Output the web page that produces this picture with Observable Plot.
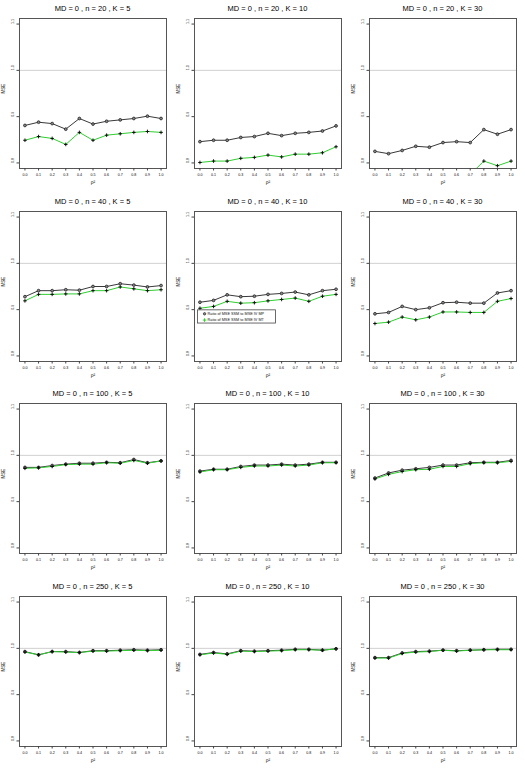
<!DOCTYPE html>
<html><head><meta charset="utf-8">
<script src="https://cdn.jsdelivr.net/npm/d3@7"></script>
<script src="https://cdn.jsdelivr.net/npm/@observablehq/plot@0.6"></script>
<style>
body{margin:0;background:#fff;}
#wrap{position:relative;width:525px;height:770px;overflow:hidden;font-family:"Liberation Sans",Arial,sans-serif;background:#fff;}
.cell{position:absolute;width:175px;height:192px;}
.title{position:absolute;left:19px;width:147px;top:4px;text-align:center;font-size:7.5px;line-height:10px;color:#000;white-space:nowrap;}
.cell svg{position:absolute;left:0;top:14px;}
</style></head><body><div id="wrap"></div>
<script>
const rho2 = [0.0,0.1,0.2,0.3,0.4,0.5,0.6,0.7,0.8,0.9,1.0];
const sampleSizes = [20,40,100,250];
const instruments = [5,10,30];
const yTicks = [0.8,0.9,1.0,1.1];
const xTicks = [0.0,0.1,0.2,0.3,0.4,0.5,0.6,0.7,0.8,0.9,1.0];
const legendLabels = ["Ratio of MSE SSM to MSE IV MP","Ratio of MSE SSM to MSE IV MT"];

// MP series (black, circles) and MT series (green, plus)
const mp_20_5  = [0.881,0.888,0.885,0.873,0.896,0.884,0.890,0.893,0.896,0.901,0.896];
const mt_20_5  = [0.849,0.857,0.853,0.840,0.866,0.849,0.860,0.863,0.866,0.868,0.866];
const mp_20_10 = [0.846,0.849,0.849,0.855,0.857,0.864,0.859,0.864,0.866,0.869,0.880];
const mt_20_10 = [0.801,0.804,0.804,0.810,0.812,0.817,0.813,0.819,0.819,0.822,0.835];
const mp_20_30 = [0.825,0.820,0.827,0.836,0.834,0.844,0.846,0.844,0.872,0.862,0.872];
const mt_20_30 = [0.755,0.750,0.757,0.766,0.764,0.774,0.776,0.775,0.804,0.794,0.804];
const mp_40_5  = [0.928,0.941,0.941,0.943,0.942,0.950,0.950,0.956,0.953,0.949,0.952];
const mt_40_5  = [0.919,0.933,0.933,0.934,0.934,0.941,0.941,0.949,0.945,0.941,0.943];
const mp_40_10 = [0.916,0.920,0.932,0.928,0.929,0.933,0.935,0.938,0.932,0.941,0.944];
const mt_40_10 = [0.903,0.907,0.918,0.914,0.915,0.919,0.922,0.925,0.918,0.929,0.933];
const mp_40_30 = [0.891,0.894,0.907,0.900,0.904,0.915,0.916,0.914,0.914,0.936,0.941];
const mt_40_30 = [0.870,0.873,0.884,0.878,0.884,0.895,0.895,0.894,0.894,0.918,0.924];
const mp_100_5  = [0.974,0.974,0.978,0.981,0.983,0.983,0.985,0.984,0.991,0.984,0.988];
const mt_100_5  = [0.972,0.973,0.976,0.980,0.981,0.981,0.984,0.983,0.989,0.983,0.988];
const mp_100_10 = [0.966,0.970,0.970,0.976,0.979,0.979,0.981,0.979,0.981,0.985,0.985];
const mt_100_10 = [0.964,0.969,0.969,0.974,0.977,0.977,0.979,0.977,0.979,0.984,0.984];
const mp_100_30 = [0.951,0.962,0.968,0.971,0.974,0.979,0.979,0.984,0.985,0.985,0.989];
const mt_100_30 = [0.949,0.959,0.965,0.969,0.970,0.976,0.976,0.982,0.984,0.984,0.987];
const mp_250_5  = [0.993,0.986,0.993,0.993,0.991,0.995,0.995,0.996,0.997,0.996,0.997];
const mt_250_5  = [0.992,0.986,0.993,0.992,0.991,0.994,0.994,0.995,0.996,0.995,0.996];
const mp_250_10 = [0.987,0.991,0.988,0.995,0.994,0.995,0.996,0.998,0.998,0.996,0.999];
const mt_250_10 = [0.986,0.990,0.987,0.994,0.993,0.994,0.995,0.997,0.997,0.996,0.999];
const mp_250_30 = [0.980,0.980,0.990,0.993,0.994,0.996,0.995,0.996,0.997,0.998,0.998];
const mt_250_30 = [0.979,0.979,0.989,0.992,0.993,0.996,0.994,0.996,0.997,0.997,0.997];

const seriesMP = [[mp_20_5,mp_20_10,mp_20_30],[mp_40_5,mp_40_10,mp_40_30],[mp_100_5,mp_100_10,mp_100_30],[mp_250_5,mp_250_10,mp_250_30]];
const seriesMT = [[mt_20_5,mt_20_10,mt_20_30],[mt_40_5,mt_40_10,mt_40_30],[mt_100_5,mt_100_10,mt_100_30],[mt_250_5,mt_250_10,mt_250_30]];

const GREEN = "#2fcf2f";
const wrap = document.getElementById("wrap");
const fmt = d3.format(".1f");

sampleSizes.forEach((n, r) => {
  instruments.forEach((K, c) => {
    const mp = seriesMP[r][c], mt = seriesMT[r][c];
    const data = rho2.map((x, i) => ({x, mp: mp[i], mt: mt[i]}));
    const marks = [
      Plot.ruleY([1.0], {stroke: "#d0d0d0", strokeWidth: 1}),
      Plot.line(data, {x: "x", y: "mp", stroke: "#222", strokeWidth: 0.9, clip: true}),
      Plot.line(data, {x: "x", y: "mt", stroke: GREEN, strokeWidth: 1, clip: true}),
      Plot.dot(data, {x: "x", y: "mp", r: 1.4, stroke: "#222", fill: "#888", strokeWidth: 0.8, clip: true}),
      Plot.dot(data, {x: "x", y: "mt", symbol: "plus", r: 1.25, stroke: "#000", strokeWidth: 0.9, clip: true}),
      Plot.frame({stroke: "#555", strokeWidth: 1}),
      Plot.axisX({ticks: xTicks, tickFormat: fmt, tickSize: 2.5, tickPadding: 2.5, fontSize: 3.6, label: null, stroke: "#444"}),
      Plot.axisY({ticks: yTicks, tickFormat: () => "", tickSize: 2.5, label: null, stroke: "#444"}),
      Plot.text(yTicks, {y: d => d, text: d => fmt(d), frameAnchor: "left", dx: -7, rotate: -90, fontSize: 3.6, fill: "#222"}),
      Plot.text(["MSE"], {frameAnchor: "left", dx: -16, rotate: -90, fontSize: 4.5, fill: "#111"}),
      Plot.text(["ρ²"], {frameAnchor: "bottom", dy: 15, fontSize: 5, fill: "#111"})
    ];
    if (n === 40 && K === 10) {
      marks.push(
        Plot.rect([{x1: -0.015, x2: 0.558, y1: 0.870, y2: 0.8985}], {x1: "x1", x2: "x2", y1: "y1", y2: "y2", fill: "white", stroke: "#444", strokeWidth: 0.8}),
        Plot.dot([{x: 0.034, y: 0.891}], {x: "x", y: "y", r: 1.2, stroke: "#222", fill: "#888", strokeWidth: 0.7}),
        Plot.dot([{x: 0.034, y: 0.8775}], {x: "x", y: "y", symbol: "plus", r: 1.25, stroke: GREEN, strokeWidth: 1}),
        Plot.text([{x: 0.056, y: 0.891, t: legendLabels[0]}], {x: "x", y: "y", text: "t", textAnchor: "start", fontSize: 3.8, fill: "#111"}),
        Plot.text([{x: 0.056, y: 0.8775, t: legendLabels[1]}], {x: "x", y: "y", text: "t", textAnchor: "start", fontSize: 3.8, fill: "#111"})
      );
    }
    const svg = Plot.plot({
      width: 175, height: 178,
      marginLeft: 19, marginRight: 9, marginTop: 4, marginBottom: 24,
      x: {domain: [-0.04, 1.04]},
      y: {domain: [0.788, 1.112]},
      style: {fontFamily: "'Liberation Sans', Arial, sans-serif", background: "transparent", overflow: "visible"},
      marks
    });
    const cell = document.createElement("div");
    cell.className = "cell";
    cell.style.left = (c * 175) + "px";
    cell.style.top = (r * 192.7) + "px";
    const t = document.createElement("div");
    t.className = "title";
    t.textContent = `MD = 0 , n = ${n} , K = ${K}`;
    cell.appendChild(t);
    cell.appendChild(svg);
    wrap.appendChild(cell);
  });
});
</script>
</body></html>
